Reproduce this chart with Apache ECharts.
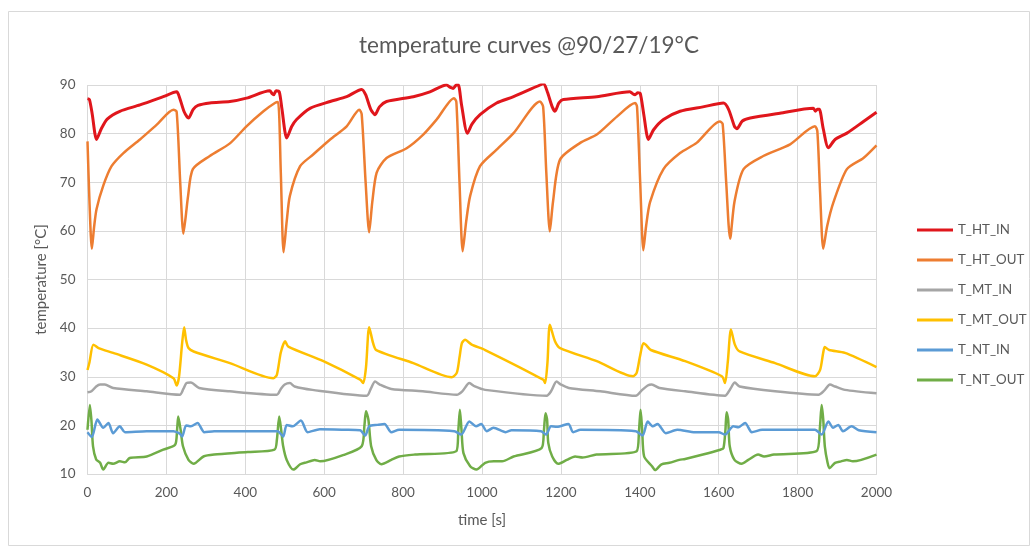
<!DOCTYPE html>
<html>
<head>
<meta charset="utf-8">
<script src="https://cdn.jsdelivr.net/npm/echarts@6/dist/echarts.min.js"></script>
<style>html,body{margin:0;padding:0;background:#fff}#c{width:1035px;height:548px}</style>
</head>
<body>
<div id="c"></div>
<script>
const xTicks = [0, 200, 400, 600, 800, 1000, 1200, 1400, 1600, 1800, 2000];
const yTicks = [10, 20, 30, 40, 50, 60, 70, 80, 90];
const seriesNames = ['T_HT_IN', 'T_HT_OUT', 'T_MT_IN', 'T_MT_OUT', 'T_NT_IN', 'T_NT_OUT'];

const htIn = [[0,87.2],[5,87],[12,84],[23,78.8],[35,81],[50,83],[82,84.6],[133,85.9],[192,87.6],[226,88.6],[233,87.5],[245,84.5],[256,83.2],[268,85],[280,85.8],[310,86.3],[361,86.6],[403,87.3],[462,88.8],[468,88.2],[472,88],[478,88.8],[486,88.6],[493,85],[505,79.1],[518,81.5],[530,82.9],[564,85.2],[615,86.6],[657,87.6],[695,89.1],[705,88],[718,85],[729,83.9],[740,85.5],[758,86.6],[826,87.6],[868,88.6],[910,90],[920,89.5],[927,89.3],[935,90],[940,90],[948,86],[963,80.1],[975,82],[995,83.9],[1037,86.3],[1080,87.6],[1147,90],[1156,90.3],[1166,88.5],[1178,85.5],[1185,84.6],[1195,86.3],[1206,87],[1291,87.6],[1375,88.6],[1382,88.2],[1388,88],[1395,88.4],[1401,88.3],[1410,84],[1422,78.8],[1435,80.8],[1460,82.9],[1502,84.6],[1560,85.5],[1612,86.3],[1625,85],[1640,81.5],[1646,81],[1660,82.6],[1680,83.2],[1755,84.2],[1840,85.2],[1845,84.6],[1850,85],[1855,85],[1865,81],[1878,77.1],[1895,78.8],[1925,80.1],[1967,82.5],[2000,84.4]];

const htOut = [[0,78.4],[5,66],[11,56.3],[17,61],[23,64.5],[40,69.3],[61,73.3],[91,76],[133,78.8],[175,81.8],[218,84.9],[226,84.5],[235,70],[243,59.4],[249,63],[255,67.2],[267,72.7],[310,75.4],[361,78],[403,81.5],[446,84.6],[475,86.3],[483,86.5],[490,72],[497,55.6],[505,62],[513,67.2],[539,73.3],[572,75.7],[615,78.8],[657,81.5],[689,84.9],[695,84],[705,70],[714,59.7],[722,66],[733,72],[758,75],[809,77],[851,79.8],[885,82.9],[929,87.3],[935,86.5],[943,70],[951,55.8],[960,62],[970,67.2],[995,73.3],[1037,76.7],[1080,80.1],[1147,86.6],[1155,85.5],[1163,72],[1172,59.9],[1180,66],[1198,74.7],[1249,78.1],[1291,79.8],[1342,83.5],[1388,86.3],[1393,85.5],[1401,70],[1409,56],[1416,61],[1426,65.9],[1460,72.7],[1502,76],[1544,78.1],[1603,82.5],[1610,82],[1619,70],[1629,58.4],[1640,66],[1663,72.7],[1713,75.4],[1781,77.8],[1844,81.5],[1850,80.5],[1857,68],[1865,56.3],[1875,61],[1891,65.9],[1925,72.7],[1967,75],[2000,77.6]];

const mtIn = [[0,26.8],[10,27],[22,28],[32,28.4],[44,28.4],[65,27.7],[150,27],[234,26.3],[243,27.5],[251,28.7],[262,28.8],[283,27.7],[361,27],[480,26.3],[490,27.5],[500,28.4],[513,28.7],[525,28],[570,27.3],[708,26.1],[718,27.5],[729,29],[741,28.4],[770,27.5],[850,27],[936,26.3],[950,27],[968,28.7],[982,28],[1008,27.3],[1164,26.1],[1175,27],[1189,29],[1200,28.4],[1220,27.7],[1300,27],[1390,26.1],[1405,27.2],[1420,28.2],[1430,28.4],[1450,27.7],[1515,27],[1616,26.1],[1628,27.3],[1641,28.8],[1653,28],[1743,27],[1853,26.3],[1868,27.2],[1882,28.4],[1895,28],[1920,27.3],[2000,26.6]];

const mtOut = [[0,31.4],[5,33],[15,36.6],[28,35.9],[65,34.9],[150,32.5],[218,29.7],[226,28.2],[232,30],[240,37],[245,40.2],[250,37.5],[256,35.9],[269,35.2],[361,32.8],[471,29.7],[480,30.4],[490,35],[501,37.3],[509,36.2],[598,33.2],[691,29.4],[699,28.7],[706,32],[714,40.2],[724,36.9],[732,35.5],[826,32.8],[923,29.9],[936,30.8],[943,34],[949,36.9],[957,37.6],[974,36.6],[1008,35.5],[1155,29.4],[1160,28.7],[1166,33],[1172,40.7],[1185,37.3],[1198,35.9],[1291,33.2],[1383,30.1],[1392,30.8],[1400,34],[1409,36.9],[1415,36.6],[1428,35.5],[1515,33.2],[1608,30.1],[1616,28.7],[1623,33],[1631,39.7],[1641,36.6],[1653,35.2],[1743,32.8],[1844,30.1],[1857,31.4],[1865,35],[1869,36.1],[1880,35.5],[1920,34.9],[2000,32]];

const ntIn = [[0,18.6],[11,17.6],[25,21.2],[40,19.5],[53,20.5],[65,18.4],[82,19.8],[95,18.6],[150,18.8],[218,18.8],[234,18.3],[240,17.7],[250,20],[262,19.8],[279,20.5],[296,18.6],[321,18.8],[406,18.8],[482,18.8],[496,17.7],[505,20.1],[520,19.8],[541,21],[558,18.6],[589,19.2],[652,19.1],[691,19],[704,17.9],[714,19.8],[735,20.1],[753,20.3],[770,18.6],[790,19.1],[930,18.8],[947,18.1],[968,20.8],[985,19.8],[998,20.3],[1012,18.8],[1029,19.5],[1060,18.6],[1075,19],[1150,18.8],[1162,18.1],[1175,19.8],[1190,19.7],[1219,20.3],[1231,18.6],[1250,19.1],[1390,18.8],[1407,17.9],[1420,20.8],[1433,19.8],[1445,20.3],[1466,18.4],[1495,19.1],[1540,18.6],[1600,18.6],[1616,18.1],[1637,19.8],[1650,19.6],[1667,20.5],[1684,18.6],[1710,19.1],[1844,19.1],[1861,18.1],[1878,20.8],[1890,19.5],[1903,20.1],[1915,18.8],[1937,19.8],[1955,19],[2000,18.6]];

const ntOut = [[0,19.1],[6,24.2],[10,21],[14,15.7],[22,13],[32,12.3],[40,10.9],[53,12.3],[65,12.1],[82,12.6],[95,12.4],[107,13.3],[150,13.6],[192,15],[222,16],[227,19],[230,21.8],[236,19.1],[242,15.7],[256,12.9],[269,12.1],[294,13.6],[321,14],[406,14.5],[474,15],[480,17],[486,21.8],[491,19],[496,15.7],[505,12.9],[522,10.9],[539,12],[555,12.4],[576,12.9],[590,12.6],[652,14],[695,15.7],[702,20],[706,22.9],[712,21.2],[719,15.7],[732,12.9],[745,12],[770,12.9],[790,13.6],[830,14],[935,14.7],[940,19],[944,23.2],[948,19.1],[953,14.3],[970,11.6],[986,10.9],[1008,12.3],[1030,12.6],[1051,12.6],[1080,13.6],[1151,15.3],[1157,19],[1161,22.5],[1165,21.2],[1168,16.4],[1178,13.6],[1193,12.1],[1215,12.9],[1236,13.6],[1255,13.4],[1290,14],[1392,14.7],[1398,19],[1402,23.2],[1406,19.1],[1411,13.6],[1431,11.6],[1439,10.8],[1455,12],[1475,12.3],[1500,12.9],[1515,13.1],[1560,14],[1604,15],[1612,15.3],[1617,19],[1620,22.7],[1624,21.2],[1628,15.7],[1640,12.9],[1658,12.1],[1675,12.9],[1700,14],[1715,13.6],[1740,14],[1848,14.7],[1856,19],[1861,24.2],[1865,21.2],[1869,15.7],[1876,12.3],[1881,11.2],[1895,12.3],[1910,12.6],[1925,12.9],[1940,12.6],[2000,14]];

const seriesData = [htIn, htOut, mtIn, mtOut, ntIn, ntOut];
const colors = ['#e0161c', '#ed7d31', '#a5a5a5', '#ffc000', '#5b9bd5', '#70ad47'];
const widths = [3, 2.5, 2.5, 2.5, 2.5, 2.5];
const FONT = 'Lato, "Open Sans", sans-serif';
const TXT = '#595959';

const chart = echarts.init(document.getElementById('c'), null, {renderer: 'canvas'});
chart.setOption({
  animation: false,
  backgroundColor: '#fff',
  graphic: [{
    type: 'rect', shape: {x: 8.5, y: 11.5, width: 1021, height: 534},
    style: {fill: 'none', stroke: '#d9d9d9', lineWidth: 1}, z: -1
  }],
  title: {
    text: 'temperature curves @90/27/19°C',
    left: 524, top: 29, textAlign: 'center',
    textStyle: {fontFamily: FONT, fontSize: 22.5, fontWeight: 'normal', color: TXT}
  },
  legend: {
    orient: 'vertical', left: 912, top: 218,
    itemWidth: 36, itemHeight: 3, itemGap: 16,
    icon: 'rect',
    data: seriesNames,
    textStyle: {fontFamily: FONT, fontSize: 13.3, color: TXT, lineHeight: 14}
  },
  grid: {left: 87.5, right: 158.5, top: 85, bottom: 74, containLabel: false},
  xAxis: {
    type: 'value', min: xTicks[0], max: xTicks[xTicks.length - 1], interval: 200,
    name: 'time [s]', nameLocation: 'middle', nameGap: 39,
    nameTextStyle: {fontFamily: FONT, fontSize: 15, color: TXT},
    axisLine: {show: true, lineStyle: {color: '#d9d9d9', width: 1}},
    axisTick: {show: false},
    axisLabel: {fontFamily: FONT, fontSize: 13.5, color: TXT, margin: 12, formatter: v => String(v)},
    splitLine: {show: true, lineStyle: {color: '#d9d9d9', width: 1}}
  },
  yAxis: {
    type: 'value', min: yTicks[0], max: yTicks[yTicks.length - 1], interval: 10,
    name: 'temperature [°C]', nameLocation: 'middle', nameGap: 32,
    nameTextStyle: {fontFamily: FONT, fontSize: 15, color: TXT},
    axisLine: {show: false}, axisTick: {show: false},
    axisLabel: {fontFamily: FONT, fontSize: 13.5, color: TXT, margin: 12, formatter: v => String(v)},
    splitLine: {show: true, lineStyle: {color: '#d9d9d9', width: 1}}
  },
  series: seriesNames.map((n, i) => ({
    name: n, type: 'line', data: seriesData[i],
    showSymbol: false, symbol: 'none', smooth: 0.25,
    color: colors[i],
    lineStyle: {color: colors[i], width: widths[i]},
    z: 10 - i
  }))
});
</script>
</body>
</html>
